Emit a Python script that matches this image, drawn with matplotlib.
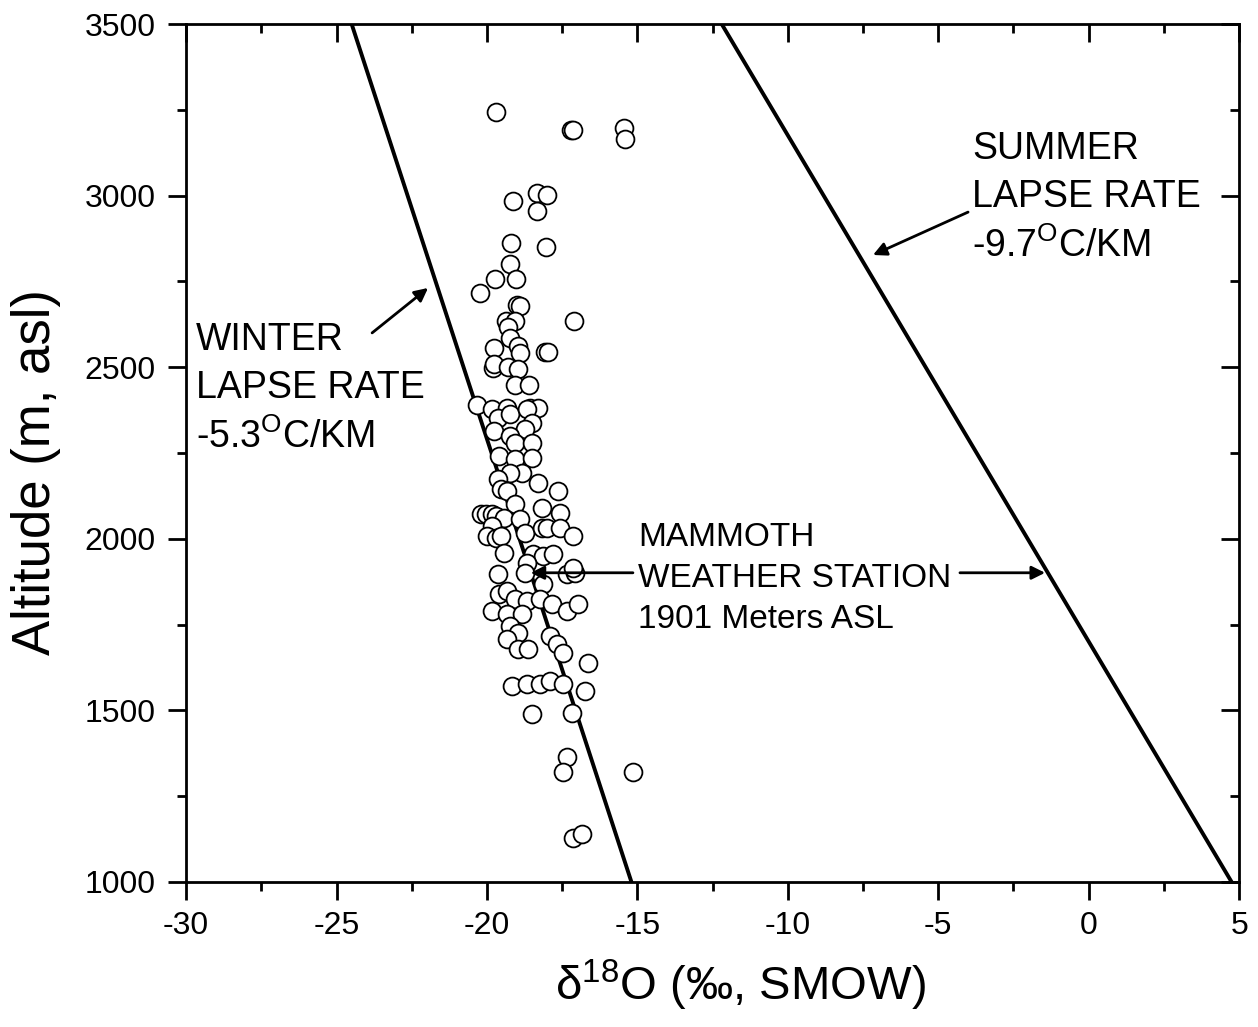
import matplotlib
matplotlib.use("Agg")
import matplotlib.pyplot as plt
from matplotlib.ticker import MultipleLocator

plt.rcParams['font.family'] = ['Liberation Sans', 'DejaVu Sans']
plt.rcParams['mathtext.fontset'] = 'custom'
plt.rcParams['mathtext.rm'] = 'Liberation Sans'
plt.rcParams['axes.unicode_minus'] = False

# delta 18O (per mil) and altitude (m) of samples
d18o = [-19.7, -17.2, -17.15, -15.45, -15.4,
        -18.34, -18.01, -18.34, -19.15, -19.19, -18.04,
        -19.25, -19.72, -19.03, -20.24, -19.0, -18.9, -17.1,
        -19.36, -19.08, -19.31, -19.25, -19.76, -18.98, -18.92,
        -18.07, -17.97, -19.81, -19.76, -19.31, -18.98, -19.08, -18.61,
        -20.33, -19.82, -19.32, -18.58, -18.31,
        -19.65, -19.25, -18.68, -18.51, -18.75, -19.76, -19.25, -19.08,
        -18.51, -19.59, -19.08, -18.51, -18.85, -19.25, -19.65, -18.31,
        -19.52, -19.32, -17.64, -19.08, -18.18, -17.57,
        -20.19, -20.02, -19.82, -19.69, -19.42, -18.92,
        -19.85, -19.99, -19.69, -19.52, -18.75,
        -18.18, -18.01, -17.57, -17.13, -19.42,
        -18.48, -18.14, -17.81, -18.68, -19.65, -18.75, -18.14,
        -17.34, -17.07, -17.13, -19.59, -19.35, -19.08, -18.68, -18.24,
        -19.82, -19.32, -18.85, -17.84, -17.34, -16.97,
        -19.25, -18.98, -19.35, -17.91, -17.67, -18.98, -18.65, -17.47,
        -16.66, -19.18, -18.68, -18.24, -17.91, -17.47, -16.73,
        -18.51, -17.17, -17.34, -17.47, -15.15, -17.13, -16.83]
altitude = [3244, 3190, 3190, 3197, 3165,
            3008, 3002, 2955, 2984, 2863, 2850,
            2802, 2758, 2758, 2715, 2680, 2678, 2636,
            2636, 2635, 2617, 2586, 2557, 2562, 2542,
            2544, 2544, 2499, 2508, 2500, 2494, 2448, 2448,
            2390, 2378, 2381, 2381, 2381,
            2352, 2364, 2378, 2337, 2320, 2314, 2300, 2279,
            2279, 2241, 2232, 2235, 2192, 2192, 2174, 2163,
            2145, 2139, 2139, 2101, 2090, 2075,
            2072, 2072, 2072, 2066, 2061, 2058,
            2037, 2008, 2002, 2008, 2017,
            2031, 2031, 2031, 2008, 1959,
            1956, 1950, 1956, 1930, 1897, 1900, 1868,
            1897, 1900, 1915, 1839, 1848, 1825, 1819, 1825,
            1790, 1781, 1781, 1810, 1790, 1810,
            1746, 1726, 1708, 1717, 1694, 1679, 1679, 1667,
            1638, 1571, 1577, 1577, 1586, 1577, 1557,
            1490, 1492, 1364, 1320, 1320, 1128, 1140]

# lapse rate lines (x at 3500 m and 1000 m)
line_alt = [3500, 1000]
winter_x = [-24.5, -15.2]
summer_x = [-12.2, 4.75]
station_alt = 1901

fig = plt.figure(figsize=(12.58, 10.27), dpi=100)
ax = fig.add_axes([0.148, 0.1412, 0.837, 0.8354])

ax.plot(winter_x, line_alt, color='k', lw=2.8, zorder=2)
ax.plot(summer_x, line_alt, color='k', lw=2.8, zorder=2)
ax.scatter(d18o, altitude, s=165, facecolors='white', edgecolors='k',
           linewidths=1.3, zorder=3)

ax.set_xlim(-30, 5)
ax.set_ylim(1000, 3500)
ax.xaxis.set_major_locator(MultipleLocator(5))
ax.xaxis.set_minor_locator(MultipleLocator(2.5))
ax.yaxis.set_major_locator(MultipleLocator(500))
ax.yaxis.set_minor_locator(MultipleLocator(250))
ax.tick_params(which='both', top=True, right=True, width=2, labelsize=23,
               direction='out')
ax.tick_params(which='major', length=13)
ax.tick_params(which='minor', length=6.5)
ax.tick_params(axis='x', which='major', pad=8)
ax.tick_params(axis='y', which='major', pad=9)
# top and right ticks point inward
for t in ax.xaxis.get_major_ticks() + ax.xaxis.get_minor_ticks():
    t.tick2line.set_marker(matplotlib.lines.TICKDOWN)
for t in ax.yaxis.get_major_ticks() + ax.yaxis.get_minor_ticks():
    t.tick2line.set_marker(matplotlib.lines.TICKLEFT)
for sp in ax.spines.values():
    sp.set_linewidth(2)

ax.set_xlabel('δ$^{18}$O (‰, SMOW)', fontsize=34, labelpad=12)
ax.set_ylabel('Altitude (m, asl)', fontsize=38, labelpad=17)
ax.xaxis.label.set_x(0.526)
ax.yaxis.label.set_y(0.478)

txt = dict(fontsize=27, color='k', linespacing=1.42, va='center', ha='left')
arrow = dict(arrowstyle='-|>', color='k', lw=2, mutation_scale=20,
             shrinkA=0, shrinkB=0)

ax.text(-3.88, 2992, 'SUMMER\nLAPSE RATE\n-9.7$^{\\mathrm{O}}$C/KM', **txt)
ax.annotate('', xy=(-7.17, 2827), xytext=(-4.01, 2952), arrowprops=arrow)

ax.text(-29.67, 2436, 'WINTER\nLAPSE RATE\n-5.3$^{\\mathrm{O}}$C/KM', **txt)
ax.annotate('', xy=(-21.96, 2731), xytext=(-23.82, 2600), arrowprops=arrow)

ax.text(-14.98, 1884, 'MAMMOTH\nWEATHER STATION\n1901 Meters ASL',
        fontsize=24, color='k', linespacing=1.42, va='center', ha='left')
ax.annotate('', xy=(-18.55, station_alt), xytext=(-15.15, station_alt),
            arrowprops=arrow)
ax.annotate('', xy=(-1.45, station_alt), xytext=(-4.28, station_alt),
            arrowprops=arrow)

fig.savefig('out.png', dpi=100)
